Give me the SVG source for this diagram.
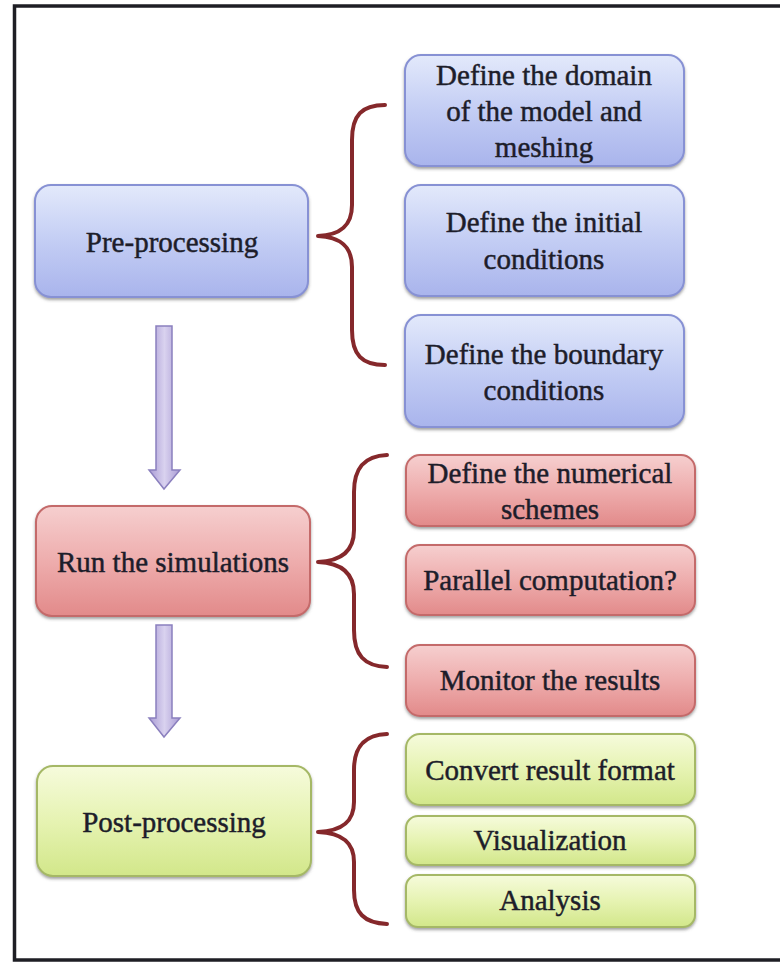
<svg xmlns="http://www.w3.org/2000/svg" width="780" height="963" viewBox="0 0 780 963">
<defs>
<linearGradient id="gBlue" x1="0" y1="0" x2="0" y2="1"><stop offset="0" stop-color="#e3e9fb"/><stop offset="0.5" stop-color="#c3cdf4"/><stop offset="1" stop-color="#a9b4ec"/></linearGradient>
<linearGradient id="gRed" x1="0" y1="0" x2="0" y2="1"><stop offset="0" stop-color="#f6cfcf"/><stop offset="0.5" stop-color="#eeadad"/><stop offset="1" stop-color="#e28a8a"/></linearGradient>
<linearGradient id="gGreen" x1="0" y1="0" x2="0" y2="1"><stop offset="0" stop-color="#f6fbdc"/><stop offset="0.5" stop-color="#e6f3b2"/><stop offset="1" stop-color="#d2e78a"/></linearGradient>
<linearGradient id="gArrow" x1="0" y1="0" x2="1" y2="0"><stop offset="0" stop-color="#a99bd4"/><stop offset="0.5" stop-color="#d9d2ef"/><stop offset="1" stop-color="#a99bd4"/></linearGradient>
<filter id="sh" x="-5%" y="-10%" width="110%" height="125%"><feDropShadow dx="0" dy="2" stdDeviation="1.5" flood-color="#555" flood-opacity="0.55"/></filter>
</defs>
<style>
.blue{fill:url(#gBlue);stroke:#8791d4;stroke-width:2;filter:url(#sh)}
.red{fill:url(#gRed);stroke:#c46a6a;stroke-width:2;filter:url(#sh)}
.green{fill:url(#gGreen);stroke:#a5b866;stroke-width:2;filter:url(#sh)}
text{font-family:'Liberation Serif','Times New Roman',Tinos,'DejaVu Serif',serif;font-size:29px;fill:#1d1d2a;stroke:#1d1d2a;stroke-width:0.45;text-anchor:middle;dominant-baseline:central}
.brace{fill:none;stroke:#85282b;stroke-width:4;stroke-linecap:round;stroke-linejoin:round}
.arrow{fill:url(#gArrow);stroke:#8b80be;stroke-width:1.5}
</style>
<rect x="14.5" y="6" width="800" height="954" fill="#ffffff" stroke="#1e1e24" stroke-width="3.5"/>

<g id="pre-processing" font-family="Liberation Serif, Times New Roman, serif">
<rect class="blue" x="35" y="185" width="273" height="112" rx="16"/>
<text x="172" y="242">Pre-processing</text>
</g>
<g id="define-domain" font-family="Liberation Serif, Times New Roman, serif">
<rect class="blue" x="405" y="55" width="279" height="111" rx="16"/>
<text x="544" y="75">Define the domain</text>
<text x="544" y="111">of the model and</text>
<text x="544" y="147">meshing</text>
</g>
<g id="define-initial">
<rect class="blue" x="405" y="185" width="279" height="111" rx="16"/>
<text x="544" y="222">Define the initial</text>
<text x="544" y="259">conditions</text>
</g>
<g id="define-boundary">
<rect class="blue" x="405" y="315" width="279" height="112" rx="16"/>
<text x="544" y="354">Define the boundary</text>
<text x="544" y="390">conditions</text>
</g>

<g id="run-simulations">
<rect class="red" x="36" y="506" width="274" height="110" rx="16"/>
<text x="173" y="562">Run the simulations</text>
</g>
<g id="define-numerical">
<rect class="red" x="406" y="455" width="289" height="71" rx="14"/>
<text x="550" y="473">Define the numerical</text>
<text x="550" y="509">schemes</text>
</g>
<g id="parallel-computation">
<rect class="red" x="406" y="545" width="289" height="70" rx="14"/>
<text x="550" y="580">Parallel computation?</text>
</g>
<g id="monitor-results">
<rect class="red" x="406" y="645" width="289" height="71" rx="14"/>
<text x="550" y="680">Monitor the results</text>
</g>

<g id="post-processing">
<rect class="green" x="37" y="766" width="274" height="110" rx="16"/>
<text x="174" y="822">Post-processing</text>
</g>
<g id="convert-format">
<rect class="green" x="406" y="734" width="289" height="71" rx="14"/>
<text x="550" y="770">Convert result format</text>
</g>
<g id="visualization">
<rect class="green" x="406" y="816" width="289" height="49" rx="12"/>
<text x="550" y="840">Visualization</text>
</g>
<g id="analysis">
<rect class="green" x="406" y="875" width="289" height="52" rx="12"/>
<text x="550" y="900">Analysis</text>
</g>

<g id="connectors">
<path class="brace" d="M385,105 C362,105 352,115 352,140 L352,205 C352,226 340,235 318,236 C340,237 352,246 352,267 L352,330 C352,355 362,365 385,365"/>
<path class="brace" d="M387,455 C364,456 354,468 354,492 L354,530 C354,550 342,561 318,562 C342,563 354,574 354,594 L354,630 C354,655 364,666 387,667"/>
<path class="brace" d="M387,734 C364,735 354,747 354,770 L354,802 C354,822 342,831 318,832 C342,833 354,842 354,862 L354,890 C354,913 364,923 387,924"/>
<path class="arrow" d="M156,326 L172,326 L172,470 L180,470 L164,489 L149,470 L156,470 Z"/>
<path class="arrow" d="M156,625 L172,625 L172,718 L180,718 L164,737 L149,718 L156,718 Z"/>
</g>
</svg>
